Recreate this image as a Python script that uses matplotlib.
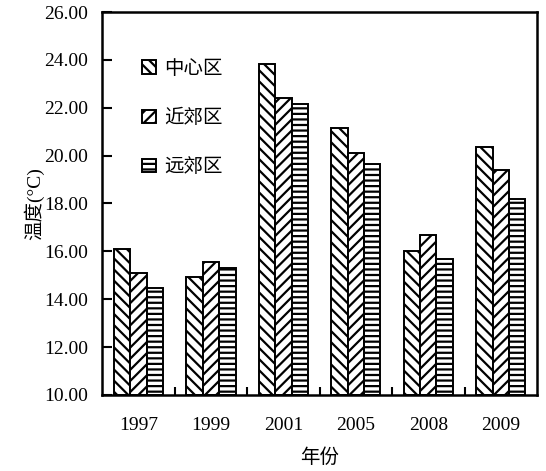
import numpy as np
import matplotlib
matplotlib.use("Agg")
import matplotlib.pyplot as plt
from matplotlib.ticker import FixedLocator

plt.rcParams['font.family'] = ['Liberation Serif', 'Noto Sans CJK SC']
plt.rcParams['hatch.linewidth'] = 1.6

years = ['1997', '1999', '2001', '2005', '2008', '2009']
series_names = ['中心区', '近郊区', '远郊区']
center = [16.1, 14.92, 23.83, 21.15, 16.03, 20.35]
suburb = [15.1, 15.56, 22.42, 20.1, 16.68, 19.4]
outer = [14.48, 15.32, 22.15, 19.65, 15.67, 18.17]

hatches = ['\\\\\\', '///', '---']

fig = plt.figure(figsize=(5.46, 4.71), dpi=100)
ax = fig.add_axes([0.187, 0.1614, 0.7965, 0.8131])

x = np.arange(len(years))
w = 0.227
for i, (vals, name) in enumerate(zip([center, suburb, outer], series_names)):
    ax.bar(x + (i - 1) * w, [v - 10 for v in vals], w, bottom=10,
           facecolor='white', edgecolor='black', linewidth=1.4,
           hatch=hatches[i], label=name)

ax.set_ylim(10, 26)
ax.set_xlim(-0.5, len(years) - 0.5)
ax.set_yticks(np.arange(10, 26.1, 2))
ax.set_yticklabels([f'{v:.2f}' for v in np.arange(10, 26.1, 2)])
ax.set_xticks(x)
ax.set_xticklabels(years)
ax.xaxis.set_minor_locator(FixedLocator(x[:-1] + 0.5))
ax.tick_params(axis='x', which='major', length=0, pad=16, labelsize=14)
ax.tick_params(axis='x', which='minor', direction='in', length=6, width=1.5)
ax.tick_params(axis='y', direction='in', length=7, width=1.5, labelsize=14, pad=10)
for s in ax.spines.values():
    s.set_linewidth(1.8)

ax.set_ylabel('温度(°C)', fontsize=14, labelpad=0)
ax.set_xlabel('年份', fontsize=14, labelpad=10)

ax.legend(loc='upper left', bbox_to_anchor=(0.075, 0.895), frameon=False,
          fontsize=14, handlelength=0.7, handleheight=0.7, handletextpad=0.4,
          labelspacing=1.6, borderaxespad=0)

fig.savefig('out.png', dpi=100)
